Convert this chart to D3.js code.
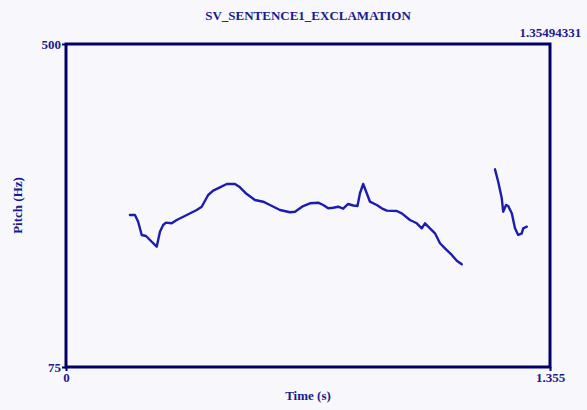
<!DOCTYPE html>
<html><head><meta charset="utf-8">
<script src="https://cdn.jsdelivr.net/npm/d3@7/dist/d3.min.js"></script>
<style>
html,body{margin:0;padding:0;background:#f8f8fc;}
svg{display:block;}
text{font-family:"Liberation Serif","Times New Roman",serif;font-weight:bold;fill:#1a1a8c;}
</style></head>
<body>
<script>
const title = "SV_SENTENCE1_EXCLAMATION";
const xDomain = [0, 1.355];
const yDomain = [75, 500];
const xTickValues = [0, 1.355];
const yTickValues = [75, 500];
const topLabelValue = [1.35494331];
const xLabel = "Time (s)";
const yLabel = "Pitch (Hz)";

const seg1Time = [0.179,0.193,0.202,0.212,0.224,0.235,0.254,0.263,0.272,0.280,0.296,0.310,0.338,0.366,0.380,0.398,0.412,0.431,0.450,0.473,0.487,0.506,0.529,0.552,0.571,0.599,0.627,0.641,0.664,0.683,0.706,0.720,0.734,0.748,0.762,0.776,0.790,0.804,0.816,0.823,0.832,0.842,0.851,0.870,0.884,0.898,0.926,0.940,0.963,0.982,0.996,1.005,1.019,1.033,1.047,1.061,1.080,1.094,1.108];
const seg1Pitch = [275.0,275.0,266.2,248.7,247.4,242.1,233.3,253.0,261.8,264.9,264.1,268.4,275.0,281.6,285.9,301.3,307.0,311.4,315.8,315.8,311.4,302.6,294.7,292.5,288.2,281.6,278.6,279.3,286.8,290.4,291.2,288.2,283.8,284.6,285.9,283.3,289.5,287.5,286.8,303.6,315.8,303.6,292.5,288.2,283.8,280.7,280.3,277.2,268.4,264.1,257.5,264.1,257.5,250.9,237.8,231.2,222.4,214.9,210.1];
const seg2Time = [1.201,1.210,1.220,1.224,1.232,1.238,1.248,1.257,1.266,1.276,1.280,1.290];
const seg2Pitch = [335.1,318.8,297.0,279.3,288.2,286.8,277.2,257.5,248.7,250.9,257.5,259.6];

const W = 587, H = 410;
const m = {left:66, right:37, top:44, bottom:43};
const svg = d3.select("body").append("svg").attr("width",W).attr("height",H);
svg.append("rect").attr("width",W).attr("height",H).attr("fill","#f8f8fc");

const x = d3.scaleLinear().domain(xDomain).range([m.left, W-m.right]);
const y = d3.scaleLinear().domain(yDomain).range([H-m.bottom, m.top]);

const navy = "#000066";
const lineColor = "#1c1cae";

const line = d3.line().x(d=>x(d[0])).y(d=>y(d[1]));
[[seg1Time,seg1Pitch],[seg2Time,seg2Pitch]].forEach(([t,p])=>{
  svg.append("path").datum(t.map((v,i)=>[v,p[i]]))
    .attr("d",line).attr("fill","none").attr("stroke",lineColor)
    .attr("stroke-width",2.4).attr("stroke-linejoin","round").attr("stroke-linecap","round");
});

// frame
svg.append("rect").attr("x",x(xDomain[0])).attr("y",y(yDomain[1]))
  .attr("width",x(xDomain[1])-x(xDomain[0])).attr("height",y(yDomain[0])-y(yDomain[1]))
  .attr("fill","none").attr("stroke",navy).attr("stroke-width",3);

function styleAxis(g){
  g.select(".domain").remove();
  g.selectAll(".tick line").attr("stroke",navy).attr("stroke-width",2);
  g.selectAll(".tick text").attr("font-size",13).attr("font-family","Liberation Serif, serif").attr("font-weight","bold").attr("fill","#1a1a8c");
}
svg.append("g").attr("transform",`translate(${m.left},0)`)
  .call(d3.axisLeft(y).tickValues(yTickValues).tickSize(4).tickPadding(1).tickFormat(d3.format("d")))
  .call(styleAxis);
svg.append("g").attr("transform",`translate(0,${H-m.bottom})`)
  .call(d3.axisBottom(x).tickValues(xTickValues).tickSize(4).tickPadding(2).tickFormat(d=>d===0?"0":String(d)))
  .call(styleAxis);
svg.append("g").attr("transform",`translate(0,${m.top})`)
  .call(d3.axisTop(x).tickValues(topLabelValue).tickSize(0).tickPadding(7).tickFormat(d=>String(d)))
  .call(styleAxis);

svg.append("text").attr("x",(x(xDomain[0])+x(xDomain[1]))/2).attr("y",20)
  .attr("text-anchor","middle").attr("font-size",13).text(title);
svg.append("text").attr("x",(x(xDomain[0])+x(xDomain[1]))/2).attr("y",400)
  .attr("text-anchor","middle").attr("font-size",13).text(xLabel);
svg.append("text").attr("transform",`translate(22,${(y(yDomain[0])+y(yDomain[1]))/2}) rotate(-90)`)
  .attr("text-anchor","middle").attr("font-size",13).text(yLabel);
</script>
</body></html>
